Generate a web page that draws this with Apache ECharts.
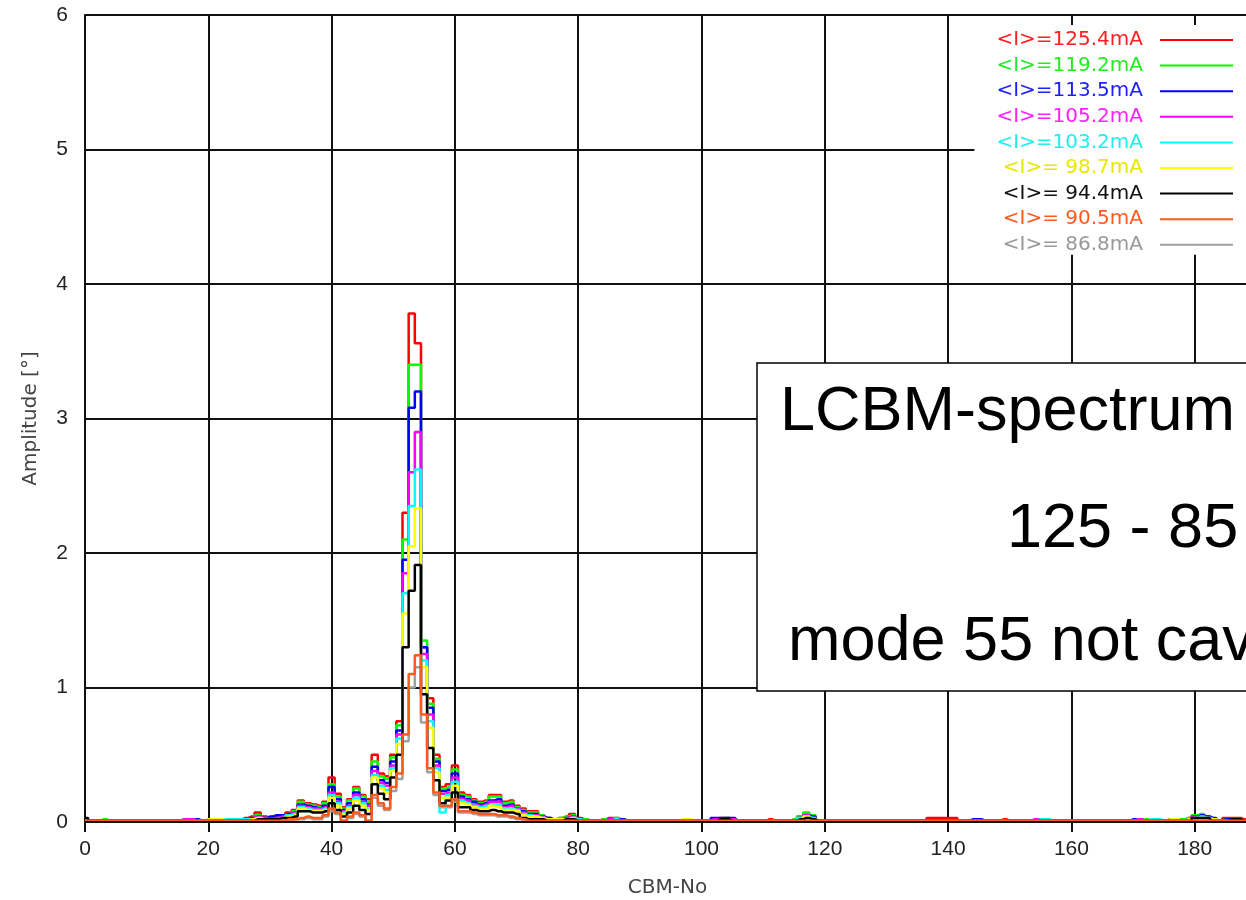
<!DOCTYPE html>
<html>
<head>
<meta charset="utf-8">
<title>LCBM spectrum</title>
<script src="https://cdn.jsdelivr.net/npm/echarts@6/dist/echarts.min.js"></script>
<style>
  html, body { margin: 0; padding: 0; background: #fff; }
  #chart { width: 1246px; height: 900px; }
</style>
</head>
<body>
<div id="chart"></div>
<script>
// x axis: CBM number, values start at CBM 0, one value per CBM
const cbmStart = 0;
const xMin = 0, xMax = 200, xStep = 20;
const yMin = 0, yMax = 6, yStep = 1;

const currents = ["<I>=125.4mA", "<I>=119.2mA", "<I>=113.5mA", "<I>=105.2mA", "<I>=103.2mA",
                  "<I>= 98.7mA", "<I>= 94.4mA", "<I>= 90.5mA", "<I>= 86.8mA"];
const lineColors = ["#ff0000", "#00ff00", "#0000ff", "#ff00ff", "#00ffff", "#ffff00", "#000000", "#ff5a1e", "#a0a0a0"];
const textColors = ["#ff2020", "#20ee20", "#2020ff", "#ff20ff", "#20eeee", "#e8e800", "#111111", "#ff5a1e", "#999999"];

// amplitude [deg] per CBM number (0..190)
const i125 = [
  .01,.01,.01,.01,.01,.01,.01,.01,.01,.01,
  .01,.01,.01,.01,.01,.01,.01,.02,.01,.01,
  .02,.02,.02,.02,.02,.02,.03,.04,.07,.04,
  .03,.04,.05,.07,.09,.16,.14,.13,.12,.15,
  .33,.21,.11,.17,.26,.20,.17,.50,.36,.34,
  .50,.75,2.30,3.78,3.56,1.30,.92,.50,.26,.28,
  .42,.22,.20,.17,.15,.16,.20,.20,.15,.16,
  .12,.10,.08,.08,.05,.03,.02,.03,.04,.06,
  .03,.02,.01,.01,.02,.03,.03,.02,.01,.01,
  .01,.01,.01,.01,.01,.01,.01,.01,.01,.01,
  .01,.01,.02,.03,.03,.02,.01,.01,.01,.01,
  .01,.02,.01,.01,.01,.02,.04,.06,.04,.01,
  .01,.01,.01,.01,.01,.01,.01,.01,.01,.01,
  .01,.01,.01,.01,.01,.01,.01,.03,.03,.03,
  .03,.03,.01,.01,.01,.01,.01,.01,.01,.02,
  .01,.01,.01,.01,.01,.01,.01,.01,.01,.01,
  .01,.01,.01,.01,.01,.01,.01,.01,.01,.01,
  .01,.02,.01,.01,.01,.01,.02,.01,.02,.03,
  .04,.05,.04,.02,.01,.03,.03,.03,.02,.01,
  .01
];
const i119 = [
  .01,.01,.01,.02,.01,.01,.01,.01,.01,.01,
  .01,.01,.01,.01,.01,.01,.02,.01,.01,.01,
  .01,.02,.02,.02,.02,.02,.02,.03,.05,.03,
  .03,.03,.05,.06,.08,.15,.13,.12,.11,.14,
  .28,.19,.10,.16,.25,.19,.15,.45,.34,.32,
  .48,.72,2.10,3.40,3.40,1.35,.88,.47,.25,.26,
  .39,.20,.19,.16,.14,.15,.19,.19,.14,.15,
  .11,.09,.07,.07,.05,.03,.02,.03,.04,.05,
  .02,.02,.01,.01,.02,.02,.03,.02,.01,.01,
  .01,.01,.01,.01,.01,.01,.01,.01,.01,.01,
  .01,.01,.02,.02,.03,.02,.01,.01,.01,.01,
  .01,.01,.01,.01,.01,.02,.04,.07,.05,.01,
  .01,.01,.01,.01,.01,.01,.01,.01,.01,.01,
  .01,.01,.01,.01,.01,.01,.01,.01,.01,.01,
  .01,.01,.01,.01,.01,.01,.01,.01,.01,.01,
  .01,.01,.01,.01,.01,.01,.01,.01,.01,.01,
  .01,.01,.01,.01,.01,.01,.01,.01,.01,.01,
  .01,.01,.02,.01,.01,.01,.01,.02,.02,.03,
  .05,.06,.04,.02,.01,.02,.02,.02,.01,.01,
  .01
];
const i113 = [
  .01,.01,.01,.01,.01,.01,.01,.01,.01,.01,
  .01,.01,.01,.01,.01,.01,.01,.01,.02,.01,
  .01,.01,.02,.02,.02,.02,.02,.03,.04,.03,
  .04,.05,.05,.06,.07,.13,.12,.11,.10,.12,
  .26,.17,.09,.14,.22,.17,.13,.41,.31,.29,
  .45,.68,1.95,3.08,3.20,1.30,.85,.45,.23,.24,
  .36,.19,.17,.15,.13,.14,.16,.17,.12,.13,
  .10,.08,.06,.06,.04,.03,.02,.02,.03,.04,
  .02,.01,.01,.01,.01,.02,.02,.02,.01,.01,
  .01,.01,.01,.01,.01,.01,.01,.01,.01,.01,
  .01,.01,.03,.03,.03,.03,.01,.01,.01,.01,
  .01,.01,.01,.01,.01,.01,.03,.05,.04,.01,
  .01,.01,.01,.01,.01,.01,.01,.01,.01,.01,
  .01,.01,.01,.01,.01,.01,.01,.01,.01,.01,
  .01,.01,.01,.01,.02,.02,.01,.01,.01,.01,
  .01,.01,.01,.01,.01,.01,.01,.01,.01,.01,
  .01,.01,.01,.01,.01,.01,.01,.01,.01,.01,
  .02,.01,.01,.01,.01,.01,.02,.02,.01,.02,
  .04,.05,.04,.03,.01,.02,.02,.01,.01,.01,
  .01
];
const i105 = [
  .01,.01,.01,.01,.01,.01,.01,.01,.01,.01,
  .01,.01,.01,.01,.01,.01,.02,.02,.01,.01,
  .01,.01,.01,.02,.02,.02,.02,.02,.04,.03,
  .02,.03,.04,.05,.07,.12,.11,.10,.10,.11,
  .22,.15,.08,.12,.20,.15,.12,.38,.29,.27,
  .42,.65,1.85,2.60,2.90,1.25,.80,.42,.21,.22,
  .33,.17,.16,.13,.12,.13,.15,.15,.11,.12,
  .10,.07,.05,.05,.04,.02,.02,.02,.03,.04,
  .02,.01,.01,.01,.01,.02,.02,.01,.01,.01,
  .01,.01,.01,.01,.01,.01,.01,.01,.01,.01,
  .01,.01,.02,.02,.02,.02,.01,.01,.01,.01,
  .01,.01,.01,.01,.01,.01,.03,.05,.03,.01,
  .01,.01,.01,.01,.01,.01,.01,.01,.01,.01,
  .01,.01,.01,.01,.01,.01,.01,.01,.01,.01,
  .01,.01,.01,.01,.01,.01,.01,.01,.01,.01,
  .01,.01,.01,.01,.02,.02,.01,.01,.01,.01,
  .01,.01,.01,.01,.01,.01,.01,.01,.01,.01,
  .01,.02,.01,.01,.01,.01,.01,.01,.01,.02,
  .04,.04,.03,.02,.01,.01,.01,.01,.01,.01,
  .01
];
const i103 = [
  .01,.01,.01,.01,.01,.01,.01,.01,.01,.01,
  .01,.01,.01,.01,.01,.01,.01,.01,.01,.01,
  .02,.02,.02,.02,.02,.02,.02,.02,.03,.02,
  .02,.02,.03,.05,.06,.11,.10,.09,.09,.10,
  .20,.14,.07,.11,.18,.14,.10,.35,.27,.24,
  .40,.62,1.70,2.35,2.62,1.20,.75,.40,.07,.20,
  .30,.16,.14,.12,.11,.12,.13,.13,.10,.10,
  .09,.06,.05,.04,.03,.02,.02,.02,.02,.03,
  .02,.01,.01,.01,.01,.01,.02,.01,.01,.01,
  .01,.01,.01,.01,.01,.01,.01,.01,.01,.01,
  .01,.01,.01,.01,.01,.01,.01,.01,.01,.01,
  .01,.01,.01,.01,.01,.01,.03,.04,.03,.01,
  .01,.01,.01,.01,.01,.01,.01,.01,.01,.01,
  .01,.01,.01,.01,.01,.01,.01,.01,.01,.01,
  .01,.01,.01,.01,.01,.01,.01,.01,.01,.01,
  .01,.01,.01,.01,.01,.02,.02,.01,.01,.01,
  .01,.01,.01,.01,.01,.01,.01,.01,.01,.01,
  .01,.01,.01,.02,.02,.01,.01,.01,.01,.02,
  .03,.04,.03,.02,.01,.01,.01,.01,.01,.01,
  .01
];
const i98 = [
  .01,.01,.01,.01,.01,.01,.01,.01,.01,.01,
  .01,.01,.01,.01,.01,.01,.01,.01,.01,.01,
  .02,.02,.02,.01,.01,.01,.01,.02,.03,.02,
  .02,.02,.03,.04,.05,.10,.09,.08,.08,.09,
  .18,.12,.06,.10,.16,.12,.09,.33,.25,.22,
  .38,.58,1.55,2.05,2.33,1.15,.70,.37,.18,.18,
  .27,.14,.13,.11,.10,.10,.12,.11,.09,.09,
  .08,.05,.04,.04,.03,.02,.02,.02,.02,.03,
  .01,.01,.01,.01,.01,.01,.01,.01,.01,.01,
  .01,.01,.01,.01,.01,.01,.01,.02,.02,.01,
  .01,.01,.01,.01,.01,.01,.01,.01,.01,.01,
  .01,.01,.01,.01,.01,.01,.02,.04,.02,.01,
  .01,.01,.01,.01,.01,.01,.01,.01,.01,.01,
  .01,.01,.01,.01,.01,.01,.01,.01,.01,.01,
  .01,.01,.01,.01,.01,.01,.01,.01,.01,.01,
  .01,.01,.01,.01,.01,.01,.01,.01,.01,.01,
  .01,.01,.01,.01,.01,.01,.01,.01,.01,.01,
  .01,.01,.01,.01,.01,.01,.02,.02,.01,.02,
  .03,.03,.03,.02,.01,.01,.01,.01,.01,.01,
  .01
];
const i94 = [
  .03,.01,.01,.01,.01,.01,.01,.01,.01,.01,
  .01,.01,.01,.01,.01,.01,.01,.01,.01,.01,
  .01,.01,.01,.01,.01,.01,.01,.01,.02,.02,
  .02,.02,.03,.03,.04,.08,.08,.07,.07,.08,
  .14,.09,.04,.07,.12,.09,.06,.28,.21,.17,
  .33,.50,1.30,1.72,1.91,.95,.55,.31,.14,.16,
  .22,.11,.11,.09,.08,.08,.09,.08,.07,.07,
  .06,.03,.02,.02,.02,.01,.01,.01,.02,.02,
  .01,.01,.01,.01,.01,.01,.01,.01,.01,.01,
  .01,.01,.01,.01,.01,.01,.01,.01,.01,.01,
  .01,.01,.01,.02,.02,.01,.01,.01,.01,.01,
  .01,.01,.01,.01,.01,.01,.02,.03,.02,.01,
  .01,.01,.01,.01,.01,.01,.01,.01,.01,.01,
  .01,.01,.01,.01,.01,.01,.01,.01,.01,.01,
  .01,.01,.01,.01,.01,.01,.01,.01,.01,.01,
  .01,.01,.01,.01,.01,.01,.01,.01,.01,.01,
  .01,.01,.01,.01,.01,.01,.01,.01,.01,.01,
  .01,.01,.01,.01,.01,.01,.01,.01,.01,.01,
  .03,.03,.03,.01,.01,.01,.02,.02,.01,.01,
  .01
];
const i90 = [
  .01,.01,.01,.01,.01,.01,.01,.01,.01,.01,
  .01,.01,.01,.01,.01,.01,.01,.01,.01,.01,
  .01,.01,.01,.01,.01,.01,.01,.01,.01,.01,
  .01,.01,.01,.02,.02,.03,.04,.03,.03,.05,
  .10,.07,.01,.04,.07,.05,.01,.20,.14,.10,
  .26,.36,.65,1.10,1.24,.80,.40,.22,.12,.12,
  .17,.08,.08,.07,.06,.06,.06,.05,.05,.04,
  .03,.02,.01,.01,.01,.01,.01,.01,.01,.01,
  .01,.01,.01,.01,.01,.01,.01,.01,.01,.01,
  .01,.01,.01,.01,.01,.01,.01,.01,.01,.01,
  .01,.01,.01,.01,.01,.01,.01,.01,.01,.01,
  .01,.01,.01,.01,.01,.01,.01,.01,.01,.01,
  .01,.01,.01,.01,.01,.01,.01,.01,.01,.01,
  .01,.01,.01,.01,.01,.01,.01,.01,.01,.01,
  .01,.01,.01,.01,.01,.01,.01,.01,.01,.01,
  .01,.01,.01,.01,.01,.01,.01,.01,.01,.01,
  .01,.01,.01,.01,.01,.01,.01,.01,.01,.01,
  .01,.01,.01,.01,.01,.01,.01,.01,.01,.01,
  .01,.01,.01,.01,.01,.01,.01,.01,.01,.01,
  .01
];
const i86 = [
  .01,.01,.01,.01,.01,.01,.01,.01,.01,.01,
  .01,.01,.01,.01,.01,.01,.01,.01,.01,.01,
  .01,.01,.01,.01,.01,.01,.01,.01,.01,.01,
  .01,.01,.01,.01,.02,.02,.03,.02,.02,.04,
  .08,.06,.01,.03,.06,.04,.01,.18,.12,.09,
  .23,.32,.60,1.00,1.15,.74,.37,.20,.11,.11,
  .15,.07,.07,.06,.05,.05,.05,.04,.04,.03,
  .02,.02,.01,.01,.01,.01,.01,.01,.01,.01,
  .01,.01,.01,.01,.01,.01,.01,.01,.01,.01,
  .01,.01,.01,.01,.01,.01,.01,.01,.01,.01,
  .01,.01,.01,.01,.01,.01,.01,.01,.01,.01,
  .01,.01,.01,.01,.01,.01,.01,.01,.01,.01,
  .01,.01,.01,.01,.01,.01,.01,.01,.01,.01,
  .01,.01,.01,.01,.01,.01,.01,.01,.01,.01,
  .01,.01,.01,.01,.01,.01,.01,.01,.01,.01,
  .01,.01,.01,.01,.01,.01,.01,.01,.01,.01,
  .01,.01,.01,.01,.01,.01,.01,.01,.01,.01,
  .01,.01,.01,.01,.01,.01,.01,.01,.01,.01,
  .01,.01,.01,.01,.01,.01,.01,.01,.01,.01,
  .01
];

const allValues = [i125, i119, i113, i105, i103, i98, i94, i90, i86];
// lowest current is drawn first so the orange trace lies over it
const drawOrder = [8, 0, 1, 2, 3, 4, 5, 6, 7];

const boxLines = ["LCBM-spectrum", "125 - 85", "mode 55 not cavity"];

const chart = echarts.init(document.getElementById("chart"), null, { renderer: "canvas" });

const toPairs = (arr) => arr.map((v, k) => [cbmStart + k, v]);

const gridColor = "#111";
const tickFont = { fontFamily: "Liberation Sans, Arial, sans-serif", fontSize: 21, color: "#222" };
const nameFont = { fontFamily: "DejaVu Sans, sans-serif", fontSize: 20, color: "#444" };

const option = {
  animation: false,
  backgroundColor: "#fff",
  grid: { left: 85, top: 15, width: 1233, height: 807, containLabel: false, outerBoundsMode: "none" },
  legend: {
    orient: "vertical",
    right: 0,
    top: 25,
    align: "right",
    icon: "rect",
    itemWidth: 73,
    itemHeight: 2,
    itemGap: 5.6,
    padding: [5, 13, 0, 22],
    backgroundColor: "#fff",
    selectedMode: false,
    textStyle: { fontFamily: "DejaVu Sans, sans-serif", fontSize: 20, lineHeight: 20, padding: [0, 12, 0, 0] },
    data: currents.map((n, k) => ({ name: n, textStyle: { color: textColors[k] } }))
  },
  xAxis: [
    {
      type: "value", min: xMin, max: xMax, interval: xStep, position: "bottom",
      axisLine: { show: true, onZero: false, lineStyle: { color: "#999", width: 2 } },
      axisTick: { show: false },
      axisLabel: Object.assign({ margin: 17 }, tickFont),
      splitLine: { show: true, lineStyle: { color: gridColor, width: 2 } },
      name: "CBM-No", nameLocation: "middle", nameGap: 56,
      nameTextStyle: Object.assign({ padding: [0, 68, 0, 0] }, nameFont)
    },
    {
      type: "value", min: xMin, max: xMax, interval: xStep, position: "top", z: 5,
      axisLine: { show: true, lineStyle: { color: gridColor, width: 2 } },
      axisTick: { show: true, inside: true, length: 10, lineStyle: { color: gridColor, width: 2 } },
      axisLabel: { show: false },
      splitLine: { show: false }
    }
  ],
  yAxis: {
    type: "value", min: yMin, max: yMax, interval: yStep,
    axisLine: { show: true, lineStyle: { color: gridColor, width: 2 } },
    axisTick: { show: false },
    axisLabel: Object.assign({ margin: 17 }, tickFont),
    splitLine: { show: true, showMinLine: false, lineStyle: { color: gridColor, width: 2 } },
    name: "Amplitude [°]", nameLocation: "middle", nameGap: 44, nameRotate: 90,
    nameTextStyle: nameFont
  },
  series: drawOrder.map((k) => ({
    name: currents[k],
    type: "line",
    step: "middle",
    symbol: "none",
    data: toPairs(allValues[k]),
    lineStyle: { color: lineColors[k], width: 2.5 },
    itemStyle: { color: lineColors[k] }
  })),
  graphic: [
    { type: "rect", z: 100, shape: { x: 757, y: 363, width: 560, height: 328 },
      style: { fill: "#fff", stroke: "#000", lineWidth: 1.5 } },
    { type: "text", z: 101, x: 780, y: 413,
      style: { text: boxLines[0], font: '63px "Liberation Sans", Arial, sans-serif', fill: "#000", textVerticalAlign: "middle" } },
    { type: "text", z: 101, x: 1007, y: 530,
      style: { text: boxLines[1], font: '63px "Liberation Sans", Arial, sans-serif', fill: "#000", textVerticalAlign: "middle" } },
    { type: "text", z: 101, x: 788, y: 643,
      style: { text: boxLines[2], font: '63px "Liberation Sans", Arial, sans-serif', fill: "#000", textVerticalAlign: "middle" } }
  ]
};

chart.setOption(option);
</script>
</body>
</html>
